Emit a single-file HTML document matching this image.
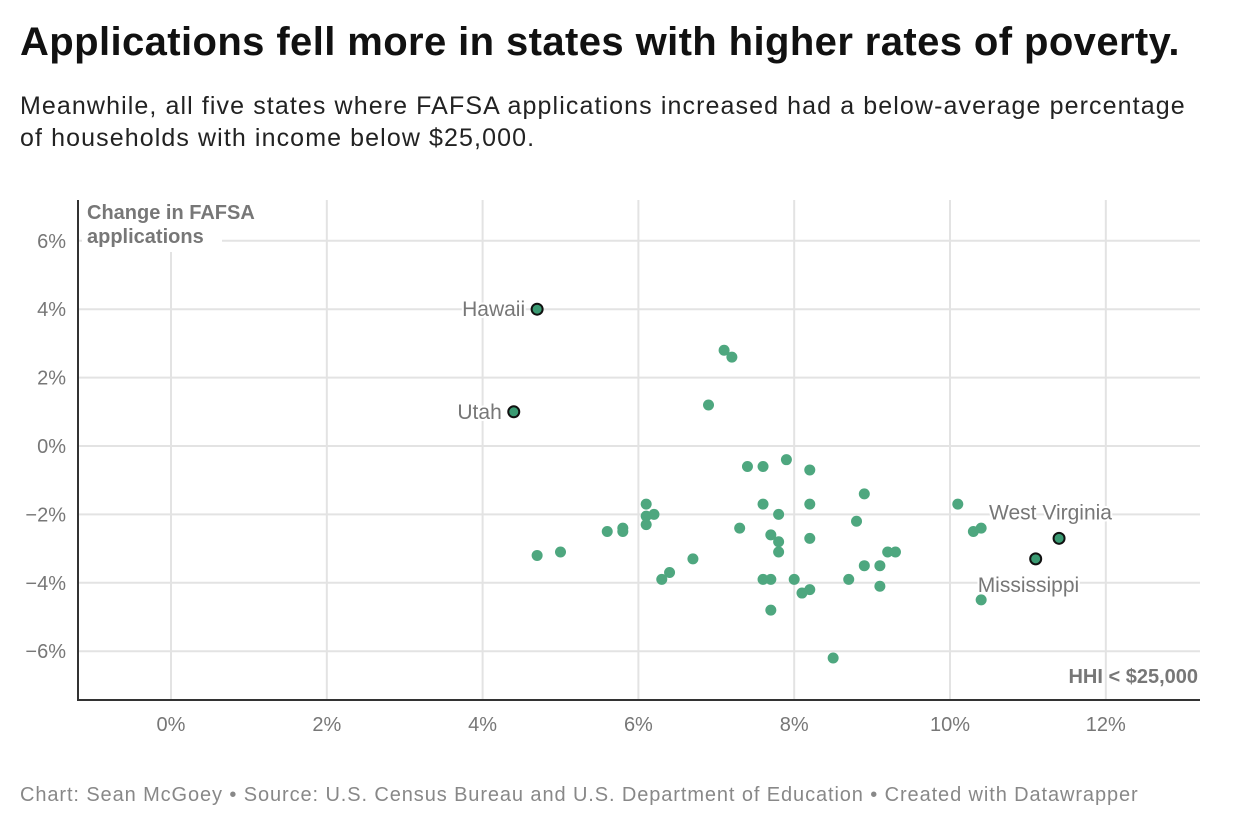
<!DOCTYPE html>
<html><head><meta charset="utf-8"><style>
body{margin:0;background:#fff;font-family:"Liberation Sans",sans-serif;}
#wrap{position:relative;width:1240px;height:840px;overflow:hidden}
h1{position:absolute;left:20px;top:20px;margin:0;font-size:40px;font-weight:bold;color:#111;letter-spacing:0.4px;white-space:nowrap}
.sub{position:absolute;left:20px;top:90px;font-size:25px;color:#222;line-height:32px;width:1180px;letter-spacing:1.1px}
.foot{position:absolute;left:20px;top:784px;font-size:20px;color:#888;letter-spacing:0.9px;white-space:nowrap}
</style></head><body><div id="wrap">
<h1>Applications fell more in states with higher rates of poverty.</h1>
<div class="sub">Meanwhile, all five states where FAFSA applications increased had a below-average percentage of households with income below $25,000.</div>
<svg id="svg" width="1240" height="840" style="position:absolute;left:0;top:0"></svg>
<div class="foot">Chart: Sean McGoey • Source: U.S. Census Bureau and U.S. Department of Education • Created with Datawrapper</div>
</div>
<script>
const xs=[4.7,4.4,11.4,11.1,7.1,7.2,6.9,7.4,7.6,7.9,8.2,8.9,10.1,6.1,7.6,8.2,6.1,6.2,6.1,7.8,8.8,7.3,5.8,5.8,5.6,7.7,7.8,8.2,10.4,10.3,4.7,5.0,6.7,7.8,9.2,9.3,8.9,9.1,6.4,6.3,7.6,7.7,8.0,8.7,9.1,8.1,8.2,10.4,7.7,8.5];
const ys=[4.0,1.0,-2.7,-3.3,2.8,2.6,1.2,-0.6,-0.6,-0.4,-0.7,-1.4,-1.7,-1.7,-1.7,-1.7,-2.05,-2.0,-2.3,-2.0,-2.2,-2.4,-2.4,-2.5,-2.5,-2.6,-2.8,-2.7,-2.4,-2.5,-3.2,-3.1,-3.3,-3.1,-3.1,-3.1,-3.5,-3.5,-3.7,-3.9,-3.9,-3.9,-3.9,-3.9,-4.1,-4.3,-4.2,-4.5,-4.8,-6.2];
const labels=["Hawaii","Utah","West Virginia","Mississippi"];
const xTicks=[0,2,4,6,8,10,12];
const yTicks=[6,4,2,0,-2,-4,-6];
const X=v=>171+v*77.9, Y=v=>446-v*34.2;
const s=document.getElementById('svg');const NS='http://www.w3.org/2000/svg';
function el(t,a,p){const e=document.createElementNS(NS,t);for(const k in a)e.setAttribute(k,a[k]);(p||s).appendChild(e);return e;}
xTicks.forEach(t=>{const l=el('line',{x1:X(t),x2:X(t),y1:200,y2:700,stroke:'#e3e3e3','stroke-width':2});

const tx=el('text',{x:X(t),y:731,'text-anchor':'middle','font-size':20,fill:'#777'});tx.textContent=t+'%';
});
yTicks.forEach(t=>{const l=el('line',{x1:77,x2:1200,y1:Y(t),y2:Y(t),stroke:'#e3e3e3','stroke-width':2});

const tx=el('text',{x:66,y:Y(t)+7,'text-anchor':'end','font-size':20,fill:'#777'});tx.textContent=(t<0?'−'+(-t):t)+'%';
});
const bg=el('rect',{x:82,y:200,width:140,height:52,fill:'#fff'});

const yt=el('text',{x:87,y:219,'font-size':20,'font-weight':'bold',fill:'#777'});

el('tspan',{x:87,dy:0},yt).textContent='Change in FAFSA';el('tspan',{x:87,dy:24},yt).textContent='applications';
const xt=el('text',{x:1198,y:683,'text-anchor':'end','font-size':20,'font-weight':'bold',fill:'#777'});xt.textContent='HHI < $25,000';

const ax=el('line',{x1:77,x2:1200,y1:700,y2:700,stroke:'#333','stroke-width':2});
const ay=el('line',{x1:78,x2:78,y1:200,y2:700,stroke:'#333','stroke-width':2});
xs.forEach((v,i)=>{if(i<4)return;const c=el('circle',{cx:X(v),cy:Y(ys[i]),r:5.5,fill:'#4ea77f'});
});
const lp=[[-12,7,'end'],[-12,7,'end'],[-70,-19,'start'],[-58,33,'start']];
for(let i=0;i<4;i++){const c=el('circle',{cx:X(xs[i]),cy:Y(ys[i]),r:5.5,fill:'#3a9a72',stroke:'#111','stroke-width':2});

const t=el('text',{x:X(xs[i])+lp[i][0],y:Y(ys[i])+lp[i][1],'text-anchor':lp[i][2],'font-size':21,fill:'#777',stroke:'#fff','stroke-width':4,'paint-order':'stroke'});t.textContent=labels[i];
}
</script></body></html>
